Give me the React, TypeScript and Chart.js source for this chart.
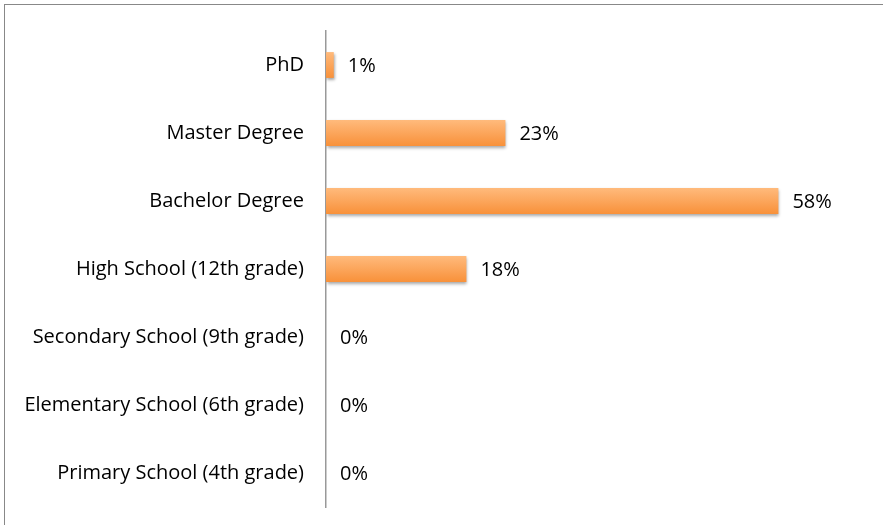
import React, { useEffect, useRef } from "react";
import { Chart, registerables } from "chart.js";

Chart.register(...registerables);

const categories = [
  "PhD",
  "Master Degree",
  "Bachelor Degree",
  "High School (12th grade)",
  "Secondary School (9th grade)",
  "Elementary School (6th grade)",
  "Primary School (4th grade)",
];
const values = [1, 23, 58, 18, 0, 0, 0];
const valueLabels = ["1%", "23%", "58%", "18%", "0%", "0%", "0%"];

const FONT = "'Open Sans', Lato, sans-serif";
const FONT_SIZE = 20;

const shadowPlugin = {
  id: "barShadow",
  beforeDatasetsDraw(chart: any) {
    const ctx = chart.ctx;
    ctx.save();
    ctx.shadowColor = "rgba(0,0,0,0.35)";
    ctx.shadowBlur = 3;
    ctx.shadowOffsetX = 1;
    ctx.shadowOffsetY = 2;
  },
  afterDatasetsDraw(chart: any) {
    chart.ctx.restore();
  },
};

const valueLabelPlugin = {
  id: "valueLabels",
  afterDraw(chart: any) {
    const ctx = chart.ctx;
    const meta = chart.getDatasetMeta(0);
    ctx.save();
    ctx.font = `${FONT_SIZE}px ${FONT}`;
    ctx.fillStyle = "#000";
    ctx.textAlign = "left";
    ctx.textBaseline = "middle";
    meta.data.forEach((el: any, i: number) => {
      ctx.fillText(valueLabels[i], el.x + 14, el.y + 1);
    });
    ctx.restore();
  },
};

export default function App() {
  const ref = useRef<HTMLCanvasElement>(null);
  useEffect(() => {
    if (!ref.current) return;
    const chart = new Chart(ref.current, {
      type: "bar",
      data: {
        labels: categories,
        datasets: [
          {
            data: values,
            barPercentage: 0.38,
            categoryPercentage: 1,
            backgroundColor: (c: any) => {
              const ch = c.chart;
              const ys = ch.scales && ch.scales.y;
              if (!ch.chartArea || !ys || c.dataIndex === undefined) return "#FBA45A";
              const yc = ys.getPixelForValue(c.dataIndex);
              const step = Math.abs(ys.getPixelForValue(1) - ys.getPixelForValue(0));
              const h = (step * 0.38) / 2;
              if (!isFinite(yc) || !isFinite(h)) return "#FBA45A";
              const g = ch.ctx.createLinearGradient(0, yc - h, 0, yc + h);
              g.addColorStop(0, "#FFBA7C");
              g.addColorStop(1, "#F8913A");
              return g;
            },
            borderWidth: 0,
          },
        ],
      },
      options: {
        indexAxis: "y",
        animation: false,
        responsive: false,
        maintainAspectRatio: false,
        layout: { padding: { left: 4, right: 89, top: 31, bottom: 18 } },
        plugins: { legend: { display: false }, tooltip: { enabled: false } },
        scales: {
          x: {
            min: 0,
            max: 60,
            display: false,
          },
          y: {
            grid: { display: false, drawTicks: false },
            border: { display: true, color: "#999", width: 1.5 },
            ticks: {
              color: "#000",
              padding: 22,
              font: { family: FONT, size: FONT_SIZE },
            },
            afterFit(scale: any) {
              scale.width = 322;
              scale.paddingTop = 0;
              scale.paddingBottom = 0;
            },
          },
        },
      },
      plugins: [shadowPlugin, valueLabelPlugin],
    });
    return () => chart.destroy();
  }, []);

  return (
    <div style={{ position: "fixed", left: 0, top: 0, width: 883, height: 525, background: "#fff" }}>
      <div
        style={{
          position: "absolute",
          left: 4,
          top: 4,
          width: 883,
          height: 525,
          borderTop: "1px solid #888",
          borderLeft: "1px solid #888",
        }}
      />
      <canvas ref={ref} width={883} height={525} style={{ position: "absolute", left: 0, top: 0 }} />
    </div>
  );
}
